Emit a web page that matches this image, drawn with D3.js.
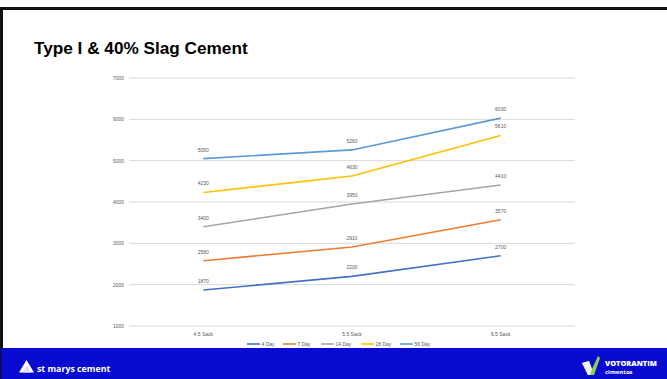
<!DOCTYPE html>
<html>
<head>
<meta charset="utf-8">
<script src="https://cdn.jsdelivr.net/npm/d3@7"></script>
<style>
  html, body { margin: 0; padding: 0; background: #fff; }
  svg { display: block; }
</style>
</head>
<body>
<svg id="chart" width="667" height="379"></svg>
<script>
// Compressive strength (psi) by cement content and curing age
const categories = ["4.5 Sack", "5.5 Sack", "6.5 Sack"];
const seriesNames = ["4 Day", "7 Day", "14 Day", "28 Day", "56 Day"];
const seriesColors = ["#4472C4", "#ED7D31", "#A5A5A5", "#FFC000", "#5B9BD5"];
const day4 = [1870, 2200, 2700];
const day7 = [2580, 2910, 3570];
const day14 = [3400, 3950, 4410];
const day28 = [4230, 4630, 5610];
const day56 = [5050, 5260, 6030];
const yTicks = [1000, 2000, 3000, 4000, 5000, 6000, 7000];

const seriesValues = [day4, day7, day14, day28, day56];
const series = seriesNames.map((name, i) => ({
  name, color: seriesColors[i],
  values: categories.map((c, j) => ({ cat: c, v: seriesValues[i][j] }))
}));

const svg = d3.select("#chart");
const W = 667, H = 379;

// slide frame
svg.append("rect").attr("x", 0).attr("y", 7).attr("width", W).attr("height", 3).attr("fill", "#111");
svg.append("rect").attr("x", 0).attr("y", 7).attr("width", 3).attr("height", H - 7).attr("fill", "#111");

// title
svg.append("text")
  .attr("x", 34).attr("y", 54)
  .attr("font-family", "Liberation Sans, Arial, sans-serif")
  .attr("font-weight", "bold").attr("font-size", 17.2)
  .attr("fill", "#000")
  .text("Type I & 40% Slag Cement");

const plotL = 129, plotR = 575, plotT = 78, plotB = 326;
const x = d3.scaleBand().domain(categories).range([plotL, plotR]).padding(0);
const y = d3.scaleLinear().domain([1000, 7000]).range([plotB, plotT]);

const font = "Liberation Sans, Arial, sans-serif";

// gridlines
svg.append("g").selectAll("line").data(yTicks).join("line")
  .attr("x1", plotL).attr("x2", plotR)
  .attr("y1", d => y(d)).attr("y2", d => y(d))
  .attr("stroke", "#d9d9d9").attr("stroke-width", 1);

// y axis labels
const yAxis = d3.axisLeft(y).tickValues(yTicks).tickFormat(d3.format("d")).tickSize(0).tickPadding(5);
const gy = svg.append("g").attr("transform", `translate(${plotL},0)`).call(yAxis);
gy.select(".domain").remove();
gy.selectAll("text").attr("font-family", font).attr("font-size", 5).attr("fill", "#595959");

// x axis labels
const xAxis = d3.axisBottom(x).tickSize(0).tickPadding(6);
const gx = svg.append("g").attr("transform", `translate(0,${plotB})`).call(xAxis);
gx.select(".domain").remove();
gx.selectAll("text").attr("font-family", font).attr("font-size", 5).attr("fill", "#595959");

// lines
const line = d3.line()
  .x(d => x(d.cat) + x.bandwidth() / 2)
  .y(d => y(d.v));

svg.append("g").selectAll("path").data(series).join("path")
  .attr("d", d => line(d.values))
  .attr("fill", "none")
  .attr("stroke", d => d.color)
  .attr("stroke-width", 1.6)
  .attr("stroke-linejoin", "round");

// data labels
svg.append("g").selectAll("g").data(series).join("g")
  .selectAll("text").data(d => d.values).join("text")
  .attr("x", d => x(d.cat) + x.bandwidth() / 2)
  .attr("y", d => y(d.v) - 7)
  .attr("text-anchor", "middle")
  .attr("font-family", font).attr("font-size", 5).attr("fill", "#595959")
  .text(d => d.v);

// legend
const legendX = [247, 283, 321, 361, 400];
const lg = svg.append("g").selectAll("g").data(series).join("g")
  .attr("transform", (d, i) => `translate(${legendX[i]},344)`);
lg.append("line").attr("x1", 0).attr("x2", 13).attr("y1", 0).attr("y2", 0)
  .attr("stroke", d => d.color).attr("stroke-width", 1.6);
lg.append("text").attr("x", 14.5).attr("y", 1.8)
  .attr("font-family", font).attr("font-size", 5).attr("fill", "#595959")
  .text(d => d.name);

// footer band
const footer = svg.append("g");
footer.append("rect").attr("x", 0).attr("y", 348).attr("width", W).attr("height", H - 348).attr("fill", "#0a0bd0");
footer.append("rect").attr("x", 0).attr("y", 348).attr("width", 2).attr("height", H - 348).attr("fill", "#0a0a60");

// st marys cement mark
footer.append("path").attr("d", "M19,372.5 L26.5,360 L34,372.5 Z").attr("fill", "#fff");
footer.append("path").attr("d", "M22.5,372.5 L27,365 L30.5,372.5 Z").attr("fill", "#dde");
footer.append("text").attr("x", 37).attr("y", 371.5)
  .attr("font-family", "Open Sans, sans-serif").attr("font-weight", "bold").attr("font-size", 8.8)
  .attr("fill", "#fff").text("st marys cement");

// Votorantim mark
footer.append("path").attr("d", "M582,363 L589,361 L592,369 L598,356 L600,358 L594,375 L588,375 Z").attr("fill", "#8fd14f");
footer.append("path").attr("d", "M582,363 L589,361 L592,369 L590,375 L588,375 Z").attr("fill", "#f2f2f2");
footer.append("text").attr("x", 605).attr("y", 365.5)
  .attr("font-family", "Open Sans, sans-serif").attr("font-weight", "800").attr("font-size", 7.4)
  .attr("fill", "#fff").text("VOTORANTIM");
footer.append("text").attr("x", 605).attr("y", 373.8)
  .attr("font-family", "Open Sans, sans-serif").attr("font-weight", "bold").attr("font-size", 6)
  .attr("fill", "#fff").text("cimentos");
</script>
</body>
</html>
